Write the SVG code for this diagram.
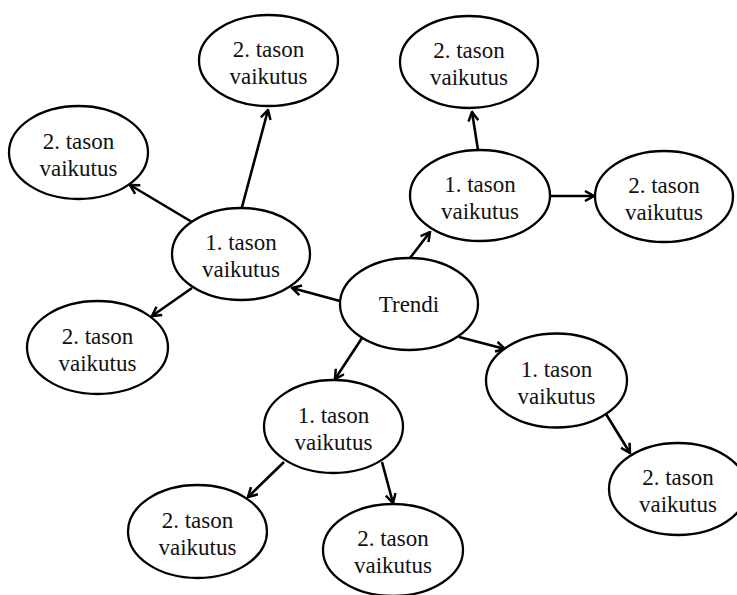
<svg xmlns="http://www.w3.org/2000/svg" width="737" height="595" viewBox="0 0 737 595">
<style>
.n ellipse{fill:#fff;stroke:#000;stroke-width:2.3}
.n text{font-family:'Liberation Serif','Times New Roman',serif;font-size:23px;text-anchor:middle;fill:#111}
.e line{stroke:#000;stroke-width:2.6;marker-end:url(#ah)}
</style>
<defs>
<marker id="ah" viewBox="0 0 12 12" refX="10.5" refY="6" markerWidth="12" markerHeight="12" markerUnits="userSpaceOnUse" orient="auto">
<path d="M1.5,1 L10.5,6 L1.5,11" fill="none" stroke="#000" stroke-width="2.5" stroke-linejoin="miter"/>
</marker>
</defs>
<rect width="737" height="595" fill="#fff"/>
<g id="connectors" class="e">
<line x1="340" y1="301" x2="292" y2="288"/>
<line x1="242" y1="207" x2="268" y2="110"/>
<line x1="192" y1="222" x2="130" y2="185"/>
<line x1="192" y1="288" x2="152" y2="316"/>
<line x1="410" y1="258" x2="430" y2="232"/>
<line x1="478" y1="150" x2="472" y2="112"/>
<line x1="550" y1="196" x2="594" y2="196"/>
<line x1="459" y1="337" x2="505" y2="349"/>
<line x1="606" y1="414" x2="630" y2="453"/>
<line x1="362" y1="338" x2="335" y2="379"/>
<line x1="284" y1="462" x2="248" y2="497"/>
<line x1="382" y1="462" x2="393" y2="503"/>
</g>
<g font-family="Liberation Serif, Times New Roman, serif">
<g id="trendi" class="n"><ellipse cx="409" cy="304" rx="69" ry="46"/><text x="409" y="312">Trendi</text></g>
<g id="l1-left" class="n"><ellipse cx="241" cy="254" rx="69" ry="46"/><text x="241" y="250">1. tason</text><text x="241" y="277">vaikutus</text></g>
<g id="l2-top" class="n"><ellipse cx="268.5" cy="60.5" rx="69.5" ry="45.5"/><text x="268.5" y="56.5">2. tason</text><text x="268.5" y="83.5">vaikutus</text></g>
<g id="l2-lefttop" class="n"><ellipse cx="78.5" cy="152.5" rx="69.5" ry="46.5"/><text x="78.5" y="148.5">2. tason</text><text x="78.5" y="175.5">vaikutus</text></g>
<g id="l2-leftbottom" class="n"><ellipse cx="97.5" cy="347.5" rx="70.5" ry="46.5"/><text x="97.5" y="343.5">2. tason</text><text x="97.5" y="370.5">vaikutus</text></g>
<g id="l1-topright" class="n"><ellipse cx="480" cy="195.5" rx="70" ry="45.5"/><text x="480" y="191.5">1. tason</text><text x="480" y="218.5">vaikutus</text></g>
<g id="l2-topright" class="n"><ellipse cx="469" cy="62" rx="69" ry="46"/><text x="469" y="58">2. tason</text><text x="469" y="85">vaikutus</text></g>
<g id="l2-right" class="n"><ellipse cx="664" cy="196.5" rx="69" ry="45.5"/><text x="664" y="192.5">2. tason</text><text x="664" y="219.5">vaikutus</text></g>
<g id="l1-bottomright" class="n"><ellipse cx="556.5" cy="380.5" rx="70.5" ry="47"/><text x="556.5" y="376.5">1. tason</text><text x="556.5" y="403.5">vaikutus</text></g>
<g id="l2-farright" class="n"><ellipse cx="678" cy="489" rx="69" ry="46"/><text x="678" y="485">2. tason</text><text x="678" y="512">vaikutus</text></g>
<g id="l1-bottom" class="n"><ellipse cx="333.5" cy="426.5" rx="69.5" ry="46.5"/><text x="333.5" y="422.5">1. tason</text><text x="333.5" y="449.5">vaikutus</text></g>
<g id="l2-bottomleft" class="n"><ellipse cx="197.5" cy="531.5" rx="69.5" ry="46.5"/><text x="197.5" y="527.5">2. tason</text><text x="197.5" y="554.5">vaikutus</text></g>
<g id="l2-bottomright" class="n"><ellipse cx="393" cy="550" rx="70" ry="46"/><text x="393" y="546">2. tason</text><text x="393" y="573">vaikutus</text></g>
</g>
</svg>
